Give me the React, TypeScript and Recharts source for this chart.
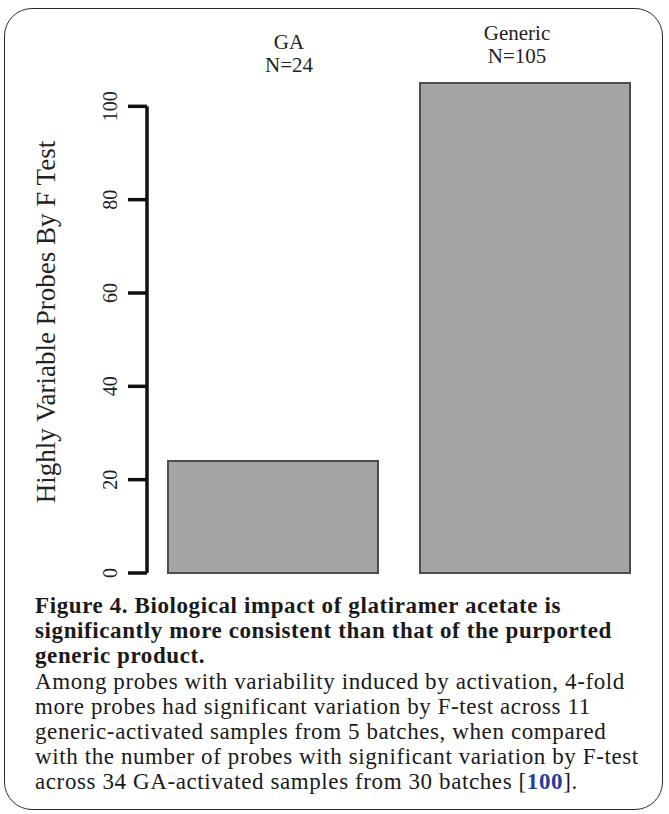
import React from "react";
import { BarChart, Bar, XAxis, YAxis, ReferenceLine } from "recharts";

const categories = ["GA", "Generic"];
const counts = [24, 105];
const countLabels = ["N=24", "N=105"];
const yTicks = [0, 20, 40, 60, 80, 100];
const yTitle = "Highly Variable Probes By F Test";

const captionBold = [
  "Figure 4. Biological impact of glatiramer acetate is",
  "significantly more consistent than that of the purported",
  "generic product.",
];
const captionBody = [
  "Among probes with variability induced by activation, 4-fold",
  "more probes had significant variation by F-test across 11",
  "generic-activated samples from 5 batches, when compared",
  "with the number of probes with significant variation by F-test",
];
const captionLast = "across 34 GA-activated samples from 30 batches [";
const captionRef = "100";

const data = categories.map((name, i) => ({
  name,
  value: counts[i],
  n: countLabels[i],
}));

const serif = "'Liberation Serif', 'DejaVu Serif', serif";

// small nudges so the group labels sit where the original put them
const labelDx = [16, -8];
const labelDy = [0, -9];

const TopTick = (props: any) => {
  const { x, payload, index } = props;
  const cx = x + labelDx[index];
  const base = 49 + labelDy[index];
  return (
    <g>
      <text x={cx} y={base} textAnchor="middle" fontFamily={serif} fontSize={21} fill="#222">
        {payload.value}
      </text>
      <text x={cx} y={base + 23} textAnchor="middle" fontFamily={serif} fontSize={21} fill="#222">
        {data[index].n}
      </text>
    </g>
  );
};

const LeftTick = (props: any) => {
  const { x, y, payload } = props;
  const bx = x - 9;
  return (
    <text
      x={bx}
      y={y}
      transform={`rotate(-90, ${bx}, ${y})`}
      textAnchor="middle"
      fontFamily={serif}
      fontSize={20}
      fill="#222"
    >
      {payload.value}
    </text>
  );
};

const renderTitle = (props: any) => {
  const vb = props.viewBox || {};
  const tx = (vb.x || 0) + 55;
  const ty = (vb.y || 0) + (vb.height || 0) / 2 - 6;
  return (
    <text
      x={tx}
      y={ty}
      transform={`rotate(-90, ${tx}, ${ty})`}
      textAnchor="middle"
      fontFamily={serif}
      fontSize={27}
      fill="#222"
    >
      {yTitle}
    </text>
  );
};

export default function App() {
  return (
    <div
      style={{
        position: "absolute",
        left: 0,
        top: 0,
        width: 669,
        height: 814,
        background: "#fff",
        fontFamily: serif,
      }}
    >
      <div
        style={{
          position: "absolute",
          left: 4,
          top: 8,
          width: 657,
          height: 800,
          border: "1.5px solid #2a2a2a",
          borderRadius: 28,
        }}
      />
      <div style={{ position: "absolute", left: 0, top: 0 }}>
        <BarChart
          width={669}
          height={600}
          data={data}
          margin={{ top: 0, right: 18, bottom: 27, left: 0 }}
          barCategoryGap={21}
        >
          <XAxis
            dataKey="name"
            orientation="top"
            height={83}
            axisLine={false}
            tickLine={false}
            tick={<TopTick />}
            interval={0}
          />
          <YAxis
            type="number"
            domain={[0, 105]}
            ticks={yTicks}
            width={147}
            axisLine={false}
            tickSize={19}
            tickLine={{ stroke: "#111", strokeWidth: 3.5 }}
            tick={<LeftTick />}
            label={renderTitle}
          />
          <ReferenceLine
            segment={[
              { x: categories[0], y: 0 },
              { x: categories[0], y: 100 },
            ]}
            position="start"
            stroke="#111"
            strokeWidth={3.5}
          />
          <Bar
            dataKey="value"
            fill="#a5a5a5"
            stroke="#4d4d4d"
            strokeWidth={2}
            isAnimationActive={false}
          />
        </BarChart>
      </div>
      <div
        style={{
          position: "absolute",
          left: 35,
          top: 593,
          fontSize: 23,
          letterSpacing: "0.6px",
          lineHeight: "25.2px",
          color: "#1a1a1a",
          whiteSpace: "nowrap",
        }}
      >
        {captionBold.map((line) => (
          <div key={line} style={{ fontWeight: "bold" }}>
            {line}
          </div>
        ))}
        {captionBody.map((line) => (
          <div key={line}>{line}</div>
        ))}
        <div>
          {captionLast}
          <span style={{ color: "#1f3d99", fontWeight: "bold" }}>{captionRef}</span>
          {"]."}
        </div>
      </div>
    </div>
  );
}
